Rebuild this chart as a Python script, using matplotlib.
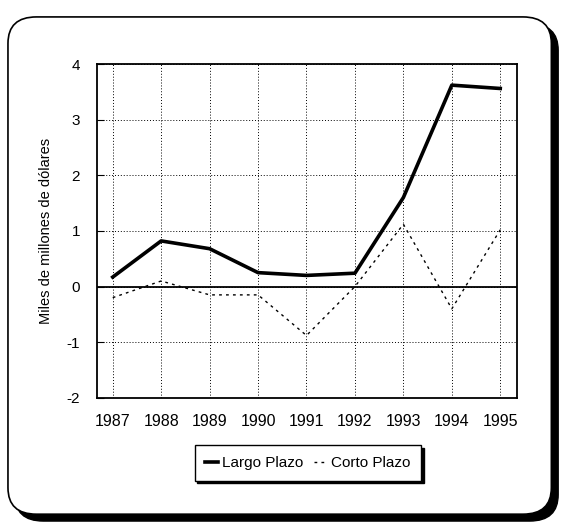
import numpy as np
import matplotlib

matplotlib.use("Agg")
import matplotlib.pyplot as plt  # noqa: E402
from matplotlib.patches import FancyBboxPatch  # noqa: E402

plt.rcParams["font.family"] = ["Liberation Sans", "DejaVu Sans"]
plt.rcParams["axes.unicode_minus"] = False

years = [1987, 1988, 1989, 1990, 1991, 1992, 1993, 1994, 1995]
largo_plazo = [0.17, 0.82, 0.68, 0.25, 0.20, 0.24, 1.60, 3.62, 3.56]
corto_plazo = [-0.20, 0.10, -0.15, -0.15, -0.88, 0.00, 1.12, -0.40, 1.02]
y_ticks = [-2, -1, 0, 1, 2, 3, 4]

fig = plt.figure(figsize=(5.69, 5.29), dpi=100)

# rounded frame with dark shadow
shadow = FancyBboxPatch((0.026, 0.015), 0.955, 0.94, boxstyle="round,pad=0,rounding_size=0.05",
                        transform=fig.transFigure, facecolor="black", edgecolor="black", zorder=0)
frame = FancyBboxPatch((0.014, 0.028), 0.955, 0.94, boxstyle="round,pad=0,rounding_size=0.05",
                       transform=fig.transFigure, facecolor="white", edgecolor="black",
                       linewidth=1.2, zorder=1)
fig.patches.extend([shadow, frame])

ax = fig.add_axes([0.170, 0.248, 0.739, 0.631])
ax.set_zorder(2)
ax.plot(years, largo_plazo, color="black", linewidth=2.6, label="Largo Plazo")
ax.plot(years, corto_plazo, color="black", linewidth=1.0, linestyle=(0, (2, 3)), label="Corto Plazo")
ax.axhline(0, color="black", linewidth=1.3)

ax.set_xlim(1986.67, 1995.35)
ax.set_ylim(-2, 4)
ax.set_xticks(years)
ax.set_yticks(y_ticks)
ax.grid(True, color="black", linestyle=(0, (1, 2)), linewidth=0.7)
ax.tick_params(axis="x", length=0, pad=12, labelsize=11.5)
ax.tick_params(axis="y", direction="in", length=5, pad=12, labelsize=11)
for s in ax.spines.values():
    s.set_linewidth(1.3)
ax.set_ylabel("Miles de millones de dólares", fontsize=10.5, labelpad=10)

leg = fig.legend(loc="center", bbox_to_anchor=(0.541, 0.125), ncol=2, frameon=True,
                 fancybox=False, edgecolor="black", fontsize=11, handlelength=0.8,
                 handletextpad=0.3, columnspacing=0.7, borderpad=0.7,
                 shadow={"color": "black", "alpha": 1.0})
leg.get_frame().set_linewidth(1.0)

fig.savefig("out.png")
plt.close(fig)
